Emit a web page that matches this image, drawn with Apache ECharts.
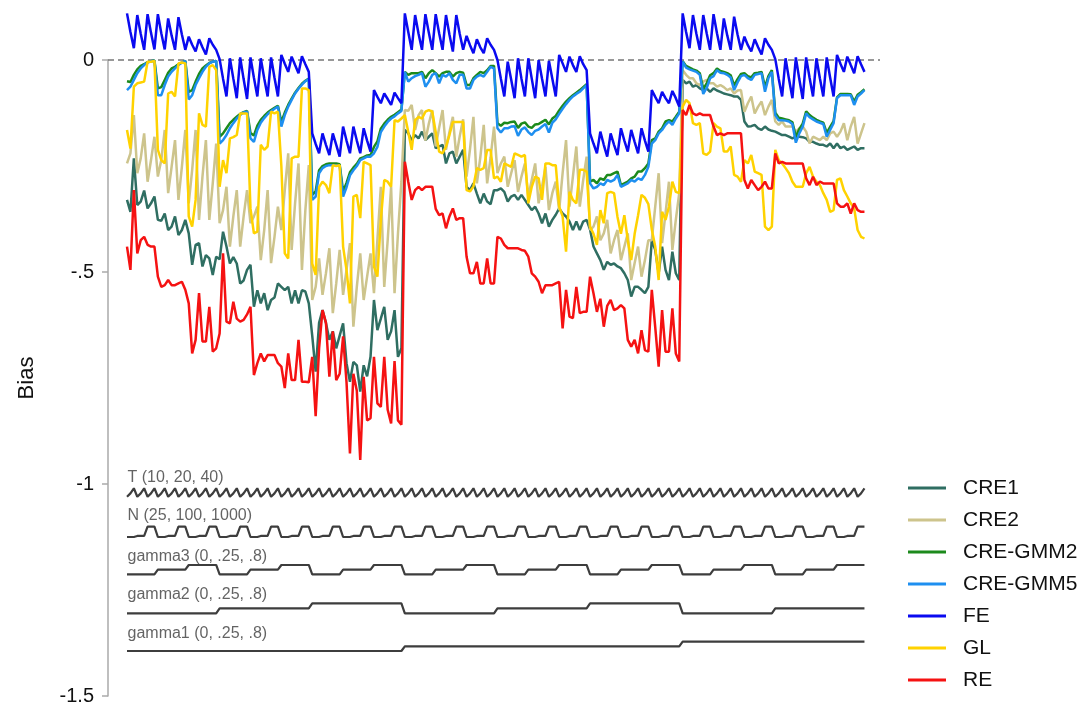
<!DOCTYPE html>
<html><head><meta charset="utf-8">
<script src="https://cdn.jsdelivr.net/npm/echarts@6/dist/echarts.min.js"></script>
<style>html,body{margin:0;padding:0;background:#fff}#c{width:1092px;height:708px}</style>
</head><body><div id="c"></div>
<script>
// ---------- data ----------
const seriesNames = ['CRE1','CRE2','CRE-GMM2','CRE-GMM5','FE','GL','RE'];
const T_LEVELS = [10,20,40];
const N_LEVELS = [25,100,1000];
const GAMMA_LEVELS = [0,0.25,0.8];
const yTicks = [0,-0.5,-1,-1.5];

const CRE1 = [
-0.330,-0.358,-0.232,-0.342,-0.334,-0.308,-0.350,-0.338,-0.322,
-0.377,-0.379,-0.362,-0.401,-0.393,-0.369,-0.413,-0.401,-0.377,
-0.409,-0.483,-0.436,-0.432,-0.487,-0.460,-0.468,-0.507,-0.464,
-0.470,-0.405,-0.440,-0.480,-0.465,-0.480,-0.527,-0.520,-0.495,
-0.483,-0.582,-0.543,-0.574,-0.550,-0.590,-0.566,-0.560,-0.527,
-0.535,-0.543,-0.535,-0.574,-0.543,-0.574,-0.543,-0.546,-0.574,
-0.650,-0.735,-0.620,-0.590,-0.620,-0.660,-0.640,-0.680,-0.650,
-0.621,-0.715,-0.759,-0.712,-0.720,-0.782,-0.720,-0.746,-0.700,
-0.566,-0.637,-0.610,-0.582,-0.660,-0.640,-0.590,-0.700,-0.680,
-0.165,-0.173,-0.189,-0.177,-0.185,-0.169,-0.189,-0.181,-0.173,
-0.208,-0.204,-0.200,-0.244,-0.220,-0.216,-0.244,-0.228,-0.212,
-0.299,-0.307,-0.291,-0.315,-0.338,-0.315,-0.334,-0.340,-0.307,
-0.307,-0.303,-0.311,-0.334,-0.322,-0.318,-0.330,-0.318,-0.330,
-0.342,-0.354,-0.346,-0.362,-0.385,-0.362,-0.393,-0.377,-0.365,
-0.350,-0.362,-0.369,-0.381,-0.401,-0.381,-0.401,-0.381,-0.377,
-0.400,-0.440,-0.456,-0.472,-0.495,-0.476,-0.483,-0.480,-0.487,
-0.491,-0.503,-0.519,-0.558,-0.535,-0.535,-0.542,-0.550,-0.535,
-0.425,-0.448,-0.503,-0.440,-0.495,-0.519,-0.452,-0.503,-0.519,
-0.047,-0.055,-0.051,-0.063,-0.059,-0.067,-0.071,-0.067,-0.075,
-0.067,-0.072,-0.075,-0.079,-0.081,-0.083,-0.086,-0.086,-0.094,
-0.145,-0.157,-0.156,-0.153,-0.161,-0.165,-0.157,-0.164,-0.167,
-0.169,-0.173,-0.177,-0.177,-0.181,-0.185,-0.181,-0.181,-0.182,
-0.185,-0.193,-0.193,-0.197,-0.200,-0.200,-0.204,-0.197,-0.208,
-0.197,-0.208,-0.204,-0.212,-0.208,-0.204,-0.212,-0.208,-0.208
];

const CRE2 = [
-0.244,-0.220,-0.130,-0.267,-0.232,-0.173,-0.287,-0.236,-0.181,
-0.275,-0.236,-0.165,-0.314,-0.252,-0.189,-0.330,-0.252,-0.165,
-0.338,-0.259,-0.165,-0.377,-0.275,-0.189,-0.377,-0.291,-0.197,
-0.385,-0.354,-0.299,-0.440,-0.369,-0.307,-0.440,-0.369,-0.307,
-0.385,-0.369,-0.346,-0.472,-0.401,-0.307,-0.479,-0.417,-0.346,
-0.401,-0.307,-0.220,-0.448,-0.338,-0.244,-0.495,-0.354,-0.248,
-0.566,-0.535,-0.468,-0.554,-0.503,-0.444,-0.597,-0.527,-0.448,
-0.554,-0.495,-0.432,-0.629,-0.535,-0.456,-0.566,-0.511,-0.456,
-0.550,-0.425,-0.299,-0.535,-0.425,-0.299,-0.550,-0.409,-0.287,
-0.118,-0.120,-0.106,-0.165,-0.130,-0.118,-0.190,-0.150,-0.118,
-0.204,-0.160,-0.118,-0.212,-0.170,-0.134,-0.228,-0.180,-0.140,
-0.275,-0.210,-0.134,-0.291,-0.230,-0.153,-0.291,-0.230,-0.157,
-0.267,-0.244,-0.228,-0.299,-0.267,-0.236,-0.311,-0.275,-0.244,
-0.322,-0.283,-0.244,-0.338,-0.299,-0.252,-0.354,-0.314,-0.287,
-0.354,-0.267,-0.189,-0.346,-0.275,-0.204,-0.346,-0.283,-0.228,
-0.401,-0.393,-0.369,-0.425,-0.409,-0.377,-0.456,-0.425,-0.401,
-0.472,-0.440,-0.409,-0.519,-0.479,-0.440,-0.511,-0.472,-0.425,
-0.425,-0.346,-0.267,-0.432,-0.362,-0.287,-0.448,-0.377,-0.314,
-0.024,-0.035,-0.043,-0.043,-0.055,-0.059,-0.051,-0.047,-0.055,
-0.055,-0.063,-0.059,-0.064,-0.071,-0.067,-0.079,-0.072,-0.071,
-0.122,-0.102,-0.086,-0.126,-0.110,-0.098,-0.130,-0.110,-0.094,
-0.145,-0.153,-0.145,-0.157,-0.157,-0.157,-0.169,-0.161,-0.157,
-0.169,-0.197,-0.181,-0.185,-0.189,-0.181,-0.189,-0.173,-0.169,
-0.181,-0.169,-0.149,-0.189,-0.157,-0.134,-0.197,-0.173,-0.149
];

const CRE_GMM2 = [
-0.050,-0.052,-0.035,-0.022,-0.014,-0.010,-0.005,-0.003,-0.001,
-0.067,-0.064,-0.047,-0.030,-0.020,-0.016,-0.010,-0.006,-0.002,
-0.075,-0.071,-0.051,-0.033,-0.020,-0.013,-0.007,-0.004,-0.002,
-0.181,-0.173,-0.161,-0.149,-0.141,-0.134,-0.127,-0.123,-0.120,
-0.172,-0.178,-0.155,-0.141,-0.132,-0.124,-0.118,-0.113,-0.108,
-0.146,-0.124,-0.106,-0.091,-0.077,-0.066,-0.056,-0.049,-0.044,
-0.318,-0.310,-0.260,-0.250,-0.246,-0.244,-0.244,-0.244,-0.246,
-0.310,-0.290,-0.265,-0.254,-0.245,-0.232,-0.229,-0.225,-0.224,
-0.205,-0.192,-0.162,-0.150,-0.141,-0.134,-0.129,-0.123,-0.117,
-0.028,-0.035,-0.031,-0.031,-0.031,-0.028,-0.043,-0.031,-0.024,
-0.031,-0.039,-0.031,-0.028,-0.028,-0.039,-0.031,-0.028,-0.030,
-0.059,-0.059,-0.043,-0.035,-0.028,-0.031,-0.024,-0.014,-0.014,
-0.149,-0.155,-0.148,-0.149,-0.146,-0.145,-0.160,-0.150,-0.147,
-0.157,-0.160,-0.152,-0.151,-0.146,-0.141,-0.152,-0.138,-0.132,
-0.119,-0.108,-0.098,-0.090,-0.083,-0.077,-0.071,-0.064,-0.057,
-0.287,-0.283,-0.291,-0.279,-0.283,-0.271,-0.271,-0.267,-0.263,
-0.295,-0.291,-0.287,-0.279,-0.275,-0.263,-0.263,-0.255,-0.244,
-0.189,-0.185,-0.169,-0.161,-0.145,-0.142,-0.145,-0.134,-0.122,
-0.003,-0.014,-0.018,-0.022,-0.025,-0.031,-0.068,-0.055,-0.036,
-0.031,-0.020,-0.026,-0.028,-0.031,-0.036,-0.060,-0.045,-0.033,
-0.031,-0.038,-0.041,-0.031,-0.030,-0.028,-0.064,-0.038,-0.024,
-0.124,-0.136,-0.138,-0.140,-0.142,-0.147,-0.181,-0.163,-0.150,
-0.121,-0.130,-0.136,-0.141,-0.145,-0.148,-0.172,-0.158,-0.144,
-0.088,-0.080,-0.080,-0.080,-0.081,-0.098,-0.082,-0.076,-0.069
];

const CRE_GMM5 = [
-0.071,-0.063,-0.047,-0.031,-0.020,-0.012,-0.006,-0.003,-0.002,
-0.083,-0.083,-0.059,-0.039,-0.028,-0.020,-0.012,-0.006,-0.002,
-0.093,-0.083,-0.059,-0.043,-0.028,-0.016,-0.008,-0.004,-0.002,
-0.197,-0.189,-0.177,-0.161,-0.149,-0.138,-0.130,-0.124,-0.122,
-0.185,-0.193,-0.165,-0.148,-0.137,-0.128,-0.121,-0.115,-0.110,
-0.157,-0.130,-0.110,-0.094,-0.079,-0.068,-0.058,-0.050,-0.045,
-0.330,-0.322,-0.267,-0.255,-0.250,-0.248,-0.248,-0.248,-0.250,
-0.322,-0.300,-0.272,-0.260,-0.250,-0.236,-0.232,-0.228,-0.228,
-0.220,-0.205,-0.170,-0.157,-0.146,-0.138,-0.133,-0.126,-0.120,
-0.028,-0.051,-0.043,-0.038,-0.035,-0.031,-0.063,-0.051,-0.035,
-0.031,-0.055,-0.035,-0.039,-0.031,-0.047,-0.055,-0.035,-0.035,
-0.067,-0.067,-0.047,-0.039,-0.035,-0.039,-0.028,-0.016,-0.020,
-0.161,-0.171,-0.161,-0.161,-0.157,-0.156,-0.179,-0.164,-0.159,
-0.170,-0.177,-0.167,-0.164,-0.157,-0.151,-0.171,-0.148,-0.140,
-0.127,-0.115,-0.104,-0.094,-0.086,-0.080,-0.075,-0.067,-0.059,
-0.291,-0.303,-0.299,-0.291,-0.295,-0.283,-0.287,-0.283,-0.271,
-0.299,-0.295,-0.291,-0.283,-0.287,-0.279,-0.283,-0.271,-0.252,
-0.197,-0.189,-0.173,-0.165,-0.153,-0.145,-0.153,-0.138,-0.126,
-0.004,-0.018,-0.022,-0.025,-0.028,-0.035,-0.080,-0.066,-0.043,
-0.038,-0.024,-0.030,-0.031,-0.035,-0.041,-0.071,-0.053,-0.038,
-0.035,-0.043,-0.047,-0.035,-0.033,-0.031,-0.075,-0.043,-0.028,
-0.130,-0.142,-0.142,-0.143,-0.145,-0.151,-0.195,-0.173,-0.157,
-0.126,-0.135,-0.140,-0.145,-0.148,-0.151,-0.181,-0.165,-0.149,
-0.090,-0.083,-0.083,-0.083,-0.083,-0.106,-0.086,-0.079,-0.071
];

const FE = [
0.110,0.066,0.028,0.106,0.062,0.024,0.108,0.064,0.025,
0.108,0.063,0.025,0.098,0.058,0.024,0.101,0.060,0.024,
0.055,0.036,0.020,0.049,0.030,0.013,0.051,0.036,0.024,
0.002,-0.044,-0.086,0.004,-0.044,-0.090,0.006,-0.045,-0.092,
0.006,-0.042,-0.086,0.004,-0.043,-0.086,0.006,-0.042,-0.086,
0.012,-0.009,-0.028,0.008,-0.012,-0.031,0.009,-0.010,-0.028,
-0.173,-0.198,-0.220,-0.173,-0.200,-0.224,-0.173,-0.200,-0.228,
-0.157,-0.190,-0.220,-0.157,-0.190,-0.220,-0.161,-0.190,-0.216,
-0.071,-0.087,-0.102,-0.079,-0.092,-0.106,-0.077,-0.090,-0.102,
0.110,0.066,0.024,0.106,0.062,0.024,0.108,0.064,0.024,
0.108,0.063,0.024,0.106,0.060,0.020,0.106,0.062,0.024,
0.057,0.035,0.016,0.049,0.030,0.016,0.051,0.036,0.024,
0.000,-0.044,-0.086,-0.004,-0.046,-0.090,0.004,-0.044,-0.086,
0.004,-0.044,-0.090,0.000,-0.044,-0.086,-0.002,-0.044,-0.086,
0.012,-0.008,-0.028,0.008,-0.012,-0.028,0.009,-0.010,-0.024,
-0.173,-0.197,-0.220,-0.169,-0.200,-0.228,-0.173,-0.200,-0.224,
-0.161,-0.190,-0.216,-0.165,-0.193,-0.220,-0.161,-0.190,-0.216,
-0.071,-0.087,-0.102,-0.075,-0.090,-0.102,-0.073,-0.090,-0.110,
0.110,0.066,0.028,0.106,0.062,0.024,0.106,0.063,0.024,
0.108,0.063,0.024,0.098,0.058,0.024,0.102,0.060,0.024,
0.055,0.035,0.020,0.049,0.030,0.013,0.051,0.036,0.024,
0.002,-0.044,-0.086,0.004,-0.045,-0.090,0.006,-0.045,-0.092,
0.006,-0.042,-0.086,0.004,-0.043,-0.086,0.006,-0.042,-0.086,
0.012,-0.009,-0.028,0.008,-0.012,-0.031,0.009,-0.010,-0.028
];

const GL = [
-0.165,-0.209,-0.063,-0.055,-0.053,-0.051,-0.004,-0.004,-0.002,
-0.212,-0.236,-0.244,-0.079,-0.075,-0.086,-0.008,-0.006,-0.008,
-0.369,-0.393,-0.330,-0.126,-0.153,-0.157,-0.016,-0.012,-0.024,
-0.299,-0.236,-0.267,-0.185,-0.182,-0.177,-0.126,-0.126,-0.126,
-0.350,-0.409,-0.405,-0.200,-0.212,-0.204,-0.122,-0.126,-0.122,
-0.250,-0.456,-0.468,-0.232,-0.228,-0.228,-0.067,-0.067,-0.071,
-0.480,-0.507,-0.300,-0.287,-0.295,-0.314,-0.248,-0.250,-0.248,
-0.440,-0.495,-0.574,-0.322,-0.318,-0.373,-0.240,-0.244,-0.248,
-0.487,-0.511,-0.377,-0.283,-0.287,-0.299,-0.142,-0.145,-0.138,
-0.130,-0.170,-0.212,-0.142,-0.134,-0.138,-0.122,-0.118,-0.122,
-0.170,-0.216,-0.220,-0.204,-0.177,-0.146,-0.146,-0.146,-0.146,
-0.307,-0.310,-0.298,-0.255,-0.259,-0.255,-0.212,-0.212,-0.279,
-0.275,-0.287,-0.244,-0.248,-0.252,-0.220,-0.224,-0.228,-0.224,
-0.338,-0.299,-0.275,-0.279,-0.330,-0.244,-0.244,-0.248,-0.248,
-0.346,-0.369,-0.452,-0.311,-0.330,-0.338,-0.259,-0.259,-0.263,
-0.393,-0.410,-0.436,-0.354,-0.385,-0.314,-0.311,-0.314,-0.370,
-0.410,-0.366,-0.425,-0.472,-0.410,-0.366,-0.318,-0.325,-0.340,
-0.400,-0.440,-0.519,-0.358,-0.377,-0.346,-0.287,-0.311,-0.314,
-0.110,-0.094,-0.102,-0.149,-0.153,-0.149,-0.220,-0.224,-0.216,
-0.149,-0.157,-0.161,-0.216,-0.216,-0.204,-0.271,-0.275,-0.287,
-0.236,-0.244,-0.224,-0.263,-0.267,-0.271,-0.393,-0.401,-0.393,
-0.212,-0.236,-0.244,-0.255,-0.267,-0.287,-0.299,-0.299,-0.299,
-0.267,-0.252,-0.275,-0.287,-0.295,-0.314,-0.330,-0.358,-0.354,
-0.283,-0.279,-0.307,-0.322,-0.338,-0.350,-0.401,-0.417,-0.421
];

const RE = [
-0.440,-0.495,-0.307,-0.456,-0.425,-0.417,-0.436,-0.440,-0.440,
-0.511,-0.535,-0.531,-0.519,-0.531,-0.531,-0.527,-0.523,-0.542,
-0.574,-0.692,-0.660,-0.550,-0.664,-0.664,-0.582,-0.688,-0.680,
-0.645,-0.456,-0.617,-0.621,-0.570,-0.610,-0.617,-0.613,-0.600,
-0.582,-0.743,-0.715,-0.692,-0.711,-0.696,-0.696,-0.696,-0.715,
-0.723,-0.774,-0.692,-0.755,-0.755,-0.660,-0.759,-0.759,-0.760,
-0.700,-0.840,-0.680,-0.590,-0.620,-0.747,-0.640,-0.755,-0.740,
-0.652,-0.760,-0.928,-0.740,-0.780,-0.943,-0.747,-0.850,-0.845,
-0.700,-0.810,-0.818,-0.700,-0.825,-0.857,-0.710,-0.850,-0.860,
-0.240,-0.287,-0.330,-0.307,-0.299,-0.307,-0.299,-0.299,-0.299,
-0.351,-0.366,-0.362,-0.397,-0.369,-0.350,-0.377,-0.373,-0.373,
-0.464,-0.503,-0.503,-0.476,-0.527,-0.527,-0.468,-0.527,-0.527,
-0.417,-0.421,-0.436,-0.444,-0.444,-0.444,-0.444,-0.448,-0.450,
-0.464,-0.503,-0.511,-0.523,-0.550,-0.531,-0.531,-0.531,-0.527,
-0.523,-0.633,-0.542,-0.605,-0.609,-0.535,-0.597,-0.594,-0.594,
-0.511,-0.550,-0.594,-0.563,-0.629,-0.580,-0.566,-0.590,-0.586,
-0.578,-0.586,-0.660,-0.676,-0.660,-0.692,-0.637,-0.684,-0.688,
-0.542,-0.630,-0.723,-0.590,-0.688,-0.688,-0.586,-0.692,-0.711,
-0.118,-0.130,-0.106,-0.126,-0.130,-0.126,-0.130,-0.130,-0.130,
-0.157,-0.177,-0.173,-0.177,-0.173,-0.173,-0.173,-0.173,-0.173,
-0.283,-0.303,-0.283,-0.295,-0.307,-0.299,-0.287,-0.303,-0.303,
-0.220,-0.244,-0.240,-0.244,-0.244,-0.244,-0.244,-0.244,-0.244,
-0.279,-0.295,-0.275,-0.295,-0.287,-0.291,-0.291,-0.291,-0.291,
-0.338,-0.346,-0.346,-0.338,-0.362,-0.338,-0.354,-0.358,-0.358
];

const seriesValues = [CRE1, CRE2, CRE_GMM2, CRE_GMM5, FE, GL, RE];

// ---------- styling / layout ----------
const FONT = '"Liberation Sans", Arial, Helvetica, sans-serif';
const seriesColors = ['#2f6e62','#cdc48c','#1c8a1c','#1e8ff0','#0a0af0','#ffd200','#f51212'];

// nested-loop design: gamma1 > gamma2 > gamma3 > N > T (gamma1=.8 with gamma2=.8 not run)
const scen = [];
for (let g1 = 0; g1 < GAMMA_LEVELS.length; g1++)
  for (let g2 = 0; g2 < GAMMA_LEVELS.length; g2++) {
    if (g1 === 2 && g2 === 2) continue;
    for (let g3 = 0; g3 < GAMMA_LEVELS.length; g3++)
      for (let n = 0; n < N_LEVELS.length; n++)
        for (let t = 0; t < T_LEVELS.length; t++) scen.push({g1, g2, g3, n, t});
  }

const fmtLvl = v => String(v).replace(/^0\./, '.');
const lvlText = arr => '(' + arr.map(fmtLvl).join(', ') + ')';
const designRows = [
  {key:'t',  label:'T ' + lvlText(T_LEVELS),      lo:-1.0300, hi:-1.0101, frac:[0,0.4,1],  labelY:-0.986},
  {key:'n',  label:'N ' + lvlText(N_LEVELS),      lo:-1.1250, hi:-1.1007, frac:[0,0.1,1],  labelY:-1.0755},
  {key:'g3', label:'gamma3 ' + lvlText(GAMMA_LEVELS), lo:-1.2130, hi:-1.1910, frac:[0,0.5,1], labelY:-1.171},
  {key:'g2', label:'gamma2 ' + lvlText(GAMMA_LEVELS), lo:-1.3050, hi:-1.2814, frac:[0,0.5,1], labelY:-1.2618},
  {key:'g1', label:'gamma1 ' + lvlText(GAMMA_LEVELS), lo:-1.3939, hi:-1.3719, frac:[0,0.5,1], labelY:-1.3526}
];

const series = seriesNames.map((name, k) => ({
  name, type:'line', showSymbol:false, symbol:'none', clip:false, silent:true,
  z: 3 + k,
  lineStyle:{width:2.5, color:seriesColors[k]}, itemStyle:{color:seriesColors[k]},
  data: seriesValues[k].map((v, i) => [i, v]),
  markLine: k === 0 ? {
    silent:true, symbol:'none', label:{show:false},
    lineStyle:{type:[6,4], color:'#777', width:1.5},
    data:[{yAxis:0}]
  } : undefined
}));

designRows.forEach(r => {
  series.push({
    name:'design-' + r.key, type:'line', showSymbol:false, symbol:'none', clip:false, silent:true,
    lineStyle:{width:2.2, color:'#3d3d3d'}, z:2,
    data: scen.map((s, i) => [i, r.lo + r.frac[s[r.key]] * (r.hi - r.lo)])
  });
});

series.push({
  name:'design-labels', type:'scatter', symbolSize:1, silent:true, clip:false,
  itemStyle:{color:'rgba(0,0,0,0)'},
  data: designRows.map(r => ({name:r.label, value:[0, r.labelY]})),
  label:{show:true, position:'right', distance:0, formatter:p => p.name,
         fontSize:16, color:'#3c3c3c', fontFamily:FONT}
});

const chart = echarts.init(document.getElementById('c'), null, {renderer:'canvas'});
chart.setOption({
  animation:false,
  backgroundColor:'#fff',
  grid:{left:108, right:212, top:60, bottom:12, containLabel:false},
  xAxis:{type:'value', min:-5.54, max:219.53, show:false},
  yAxis:{
    type:'value', min:yTicks[yTicks.length-1], max:yTicks[0], interval:0.5,
    name:'Bias', nameLocation:'middle', nameGap:70, nameRotate:90,
    nameTextStyle:{fontSize:22, color:'#111', fontFamily:FONT},
    axisLine:{show:true, onZero:false, lineStyle:{color:'#aaa', width:1.5}},
    axisTick:{show:true, length:6, lineStyle:{color:'#aaa', width:1.5}},
    axisLabel:{fontSize:20, color:'#111', margin:14, fontFamily:FONT,
      formatter:v => String(v).replace('0.', '.')},
    splitLine:{show:false}
  },
  legend:{
    data:seriesNames, orient:'vertical', left:903, top:471,
    icon:'rect', itemWidth:38, itemHeight:3, itemGap:8,
    textStyle:{fontSize:21, color:'#111', lineHeight:24, padding:[0,0,0,12], fontFamily:FONT}
  },
  series
});
</script>
</body></html>
